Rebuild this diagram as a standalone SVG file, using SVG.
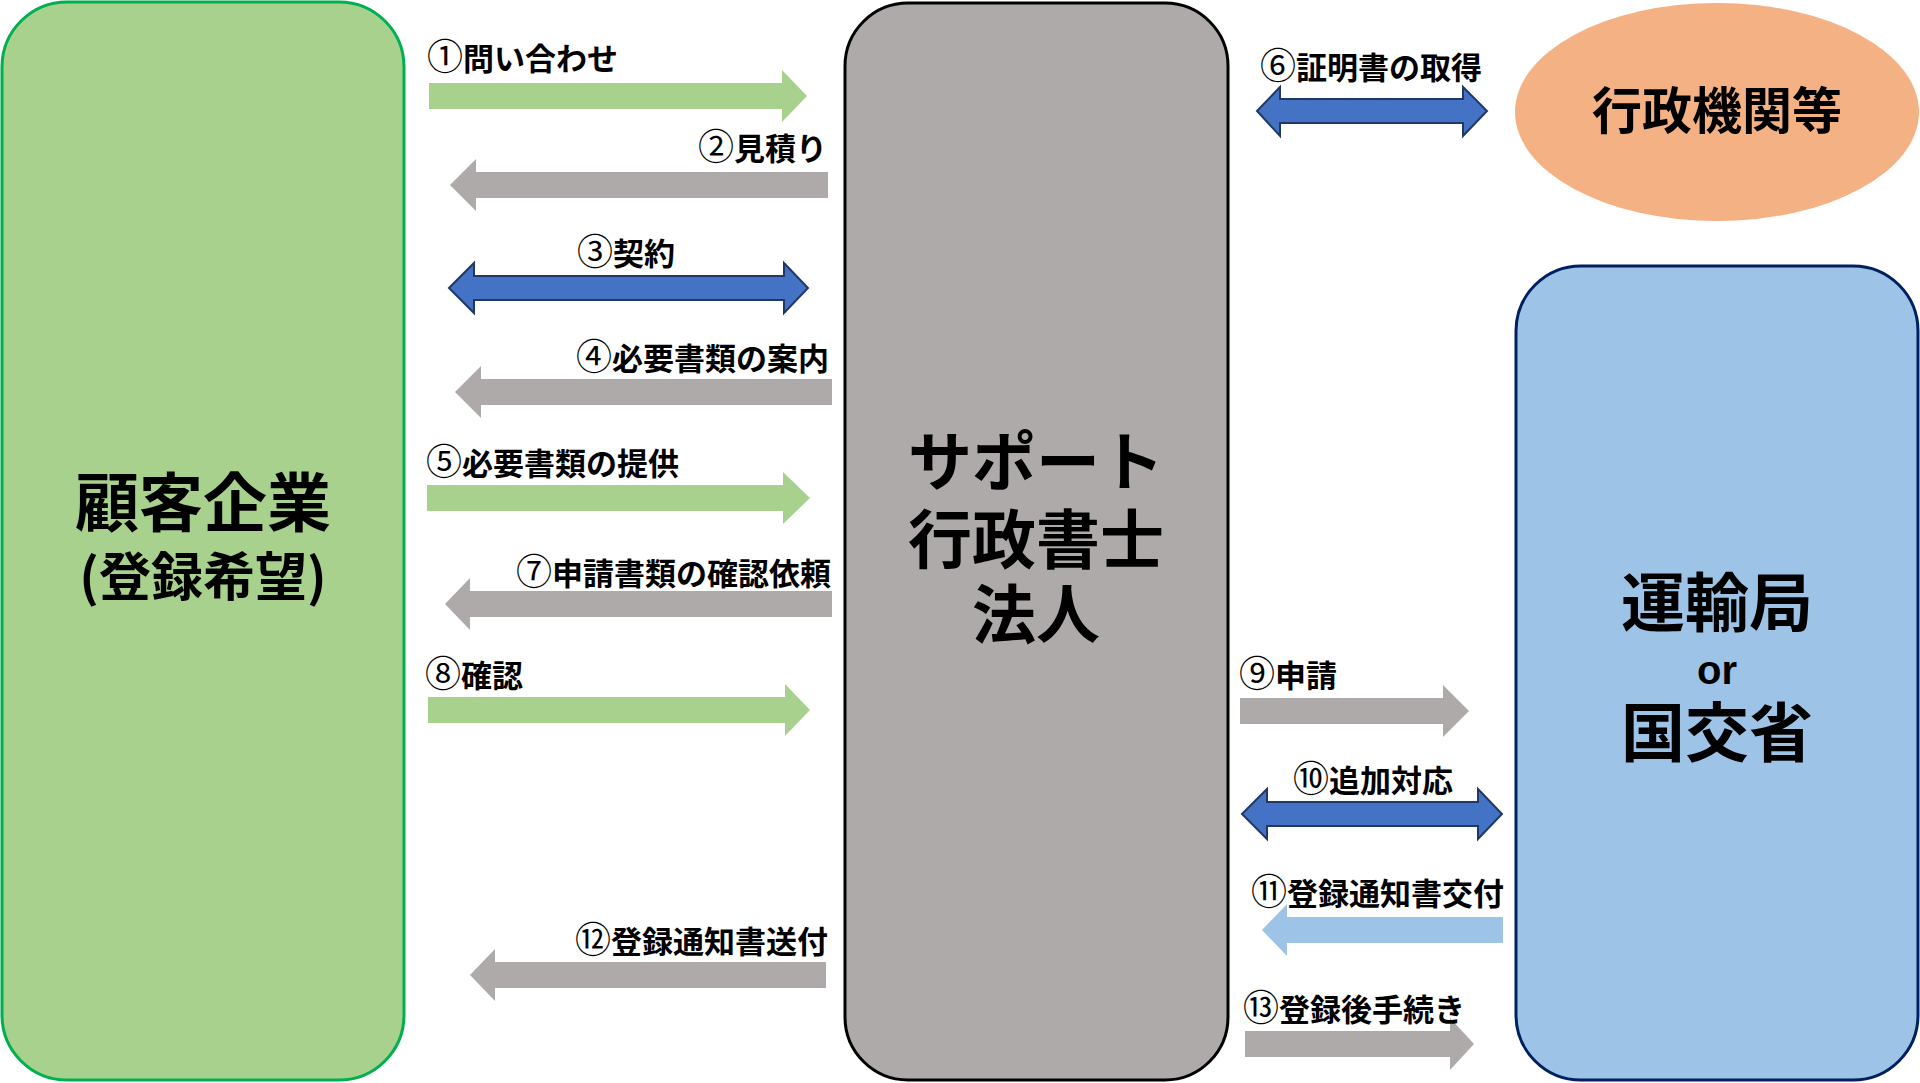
<svg xmlns="http://www.w3.org/2000/svg" width="1920" height="1083" viewBox="0 0 1920 1083">
<style>
.lbl{font-family:"Noto Sans CJK JP","Noto Sans",sans-serif;font-weight:bold;font-size:31px;fill:#000}
.num{font-size:36px;font-weight:normal}
.big{font-family:"Noto Sans CJK JP","Noto Sans",sans-serif;font-weight:bold;font-size:64px;fill:#000;text-anchor:middle}
.green{fill:#A9D18E}
.gray{fill:#AEAAAA}
.blue{fill:#4472C4;stroke:#1F3864;stroke-width:2;stroke-linejoin:miter}
.lblue{fill:#9DC3E6}
</style>
<rect width="1920" height="1083" fill="#FFFFFF"/>
<g id="node-customer">
<rect x="2" y="2" width="402" height="1078" rx="65" ry="65" fill="#A9D18E" stroke="#00B050" stroke-width="3"/>
<text class="big" x="203" y="526">顧客企業<tspan x="203" y="596" style="font-size:52px">(登録希望)</tspan></text>
</g>
<g id="node-support">
<rect x="845" y="3" width="383" height="1077" rx="63" ry="63" fill="#AEAAAA" stroke="#000000" stroke-width="3"/>
<text class="big" x="1036" y="485">サポート<tspan x="1036" y="563">行政書士</tspan><tspan x="1036" y="638">法人</tspan></text>
</g>
<g id="node-gov">
<ellipse cx="1717" cy="112" rx="202" ry="109" fill="#F4B183"/>
<text class="big" x="1717" y="129" style="font-size:50px">行政機関等</text>
</g>
<g id="node-transport">
<rect x="1516" y="266" width="402" height="814" rx="65" ry="65" fill="#9DC3E6" stroke="#002060" stroke-width="3"/>
<text class="big" x="1717" y="626">運輸局<tspan x="1717" y="684" style="font-family:'Liberation Sans','Noto Sans',sans-serif;font-size:40px">or</tspan><tspan x="1717" y="756">国交省</tspan></text>
</g>
<g id="connectors">
<polygon class="green" points="429,83 782,83 782,70 807,96 782,122 782,109 429,109"/>
<polygon class="gray" points="828,172 476,172 476,159 450,185 476,211 476,198 828,198"/>
<polygon class="blue" points="449,288 474,263 474,276 784,276 784,263 808,288 784,313 784,300 474,300 474,313"/>
<polygon class="gray" points="832,379 481,379 481,366 455,392 481,418 481,405 832,405"/>
<polygon class="green" points="427,485 783,485 783,472 810,498 783,524 783,511 427,511"/>
<polygon class="gray" points="832,591 470,591 470,578 445,604 470,630 470,617 832,617"/>
<polygon class="green" points="428,697 785,697 785,684 810,710 785,736 785,723 428,723"/>
<polygon class="gray" points="826,962 495,962 495,949 470,975 495,1001 495,988 826,988"/>
<polygon class="blue" points="1257,111 1280,87 1280,99 1463,99 1463,87 1487,111 1463,136 1463,123 1280,123 1280,136"/>
<polygon class="gray" points="1240,698 1443,698 1443,685 1469,711 1443,737 1443,724 1240,724"/>
<polygon class="blue" points="1242,814 1267,789 1267,802 1478,802 1478,789 1502,814 1478,839 1478,826 1267,826 1267,839"/>
<polygon class="lblue" points="1503,917 1287,917 1287,904 1262,930 1287,956 1287,943 1503,943"/>
<polygon class="gray" points="1245,1031 1450,1031 1450,1018 1474,1044 1450,1070 1450,1057 1245,1057"/>
<text class="lbl" x="427" y="70"><tspan class="num">①</tspan>問い合わせ</text>
<text class="lbl" x="827" y="160" text-anchor="end"><tspan class="num">②</tspan>見積り</text>
<text class="lbl" x="626" y="265" text-anchor="middle"><tspan class="num">③</tspan>契約</text>
<text class="lbl" x="829" y="370" text-anchor="end"><tspan class="num">④</tspan>必要書類の案内</text>
<text class="lbl" x="426" y="475"><tspan class="num">⑤</tspan>必要書類の提供</text>
<text class="lbl" x="1371" y="79" text-anchor="middle"><tspan class="num">⑥</tspan>証明書の取得</text>
<text class="lbl" x="831" y="585" text-anchor="end"><tspan class="num">⑦</tspan>申請書類の確認依頼</text>
<text class="lbl" x="425" y="687"><tspan class="num">⑧</tspan>確認</text>
<text class="lbl" x="1239" y="687"><tspan class="num">⑨</tspan>申請</text>
<text class="lbl" x="1373" y="792" text-anchor="middle"><tspan class="num">⑩</tspan>追加対応</text>
<text class="lbl" x="1504" y="905" text-anchor="end"><tspan class="num">⑪</tspan>登録通知書交付</text>
<text class="lbl" x="828" y="953" text-anchor="end"><tspan class="num">⑫</tspan>登録通知書送付</text>
<text class="lbl" x="1243" y="1021"><tspan class="num">⑬</tspan>登録後手続き</text>
</g>
</svg>
